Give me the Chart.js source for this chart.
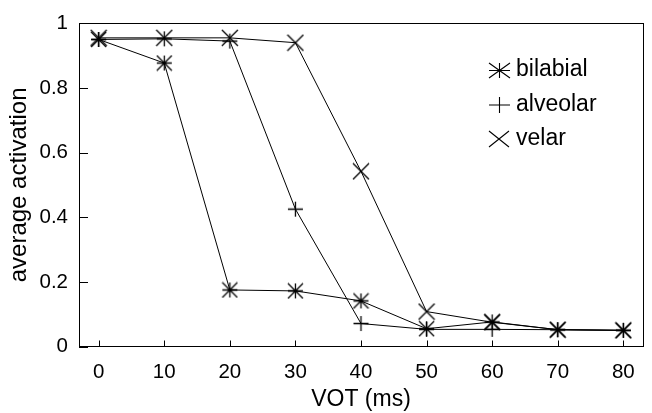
<!DOCTYPE html>
<html><head><meta charset="utf-8">
<script src="https://cdn.jsdelivr.net/npm/chart.js@4.4.1/dist/chart.umd.min.js"></script>
<style>html,body{margin:0;padding:0;background:#fff;} #wrap{width:652px;height:413px;position:relative;}</style>
</head><body><div id="wrap"><canvas id="c" width="652" height="413" style="width:652px;height:413px"></canvas></div>
<script>
// ---- data ----
const vot = [0, 10, 20, 30, 40, 50, 60, 70, 80];
const bilabial = [0.95, 0.877, 0.175, 0.172, 0.141, 0.055, 0.076, 0.052, 0.05];
const alveolar = [0.95, 0.952, 0.945, 0.425, 0.071, 0.053, 0.053, 0.052, 0.05];
const velar = [0.955, 0.955, 0.955, 0.94, 0.542, 0.108, 0.075, 0.052, 0.05];
const seriesNames = ['bilabial', 'alveolar', 'velar'];
const xTicks = [0, 10, 20, 30, 40, 50, 60, 70, 80];
const yTicks = [0, 0.2, 0.4, 0.6, 0.8, 1];
const yTickLabels = ['0', '0.2', '0.4', '0.6', '0.8', '1'];
const xTitle = 'VOT (ms)';
const yTitle = 'average activation';

// ---- marker images ----
function marker(kind, w, h, lw) {
  const c = document.createElement('canvas');
  c.width = w + 2; c.height = h + 2;
  const g = c.getContext('2d');
  g.strokeStyle = '#000'; g.lineWidth = lw;
  const cx = c.width / 2, cy = c.height / 2, hx = w / 2, hy = h / 2;
  g.beginPath();
  if (kind === 'plus' || kind === 'star') {
    g.moveTo(cx - hx, cy); g.lineTo(cx + hx, cy);
    g.moveTo(cx, cy - hy); g.lineTo(cx, cy + hy);
  }
  if (kind === 'x' || kind === 'star') {
    g.moveTo(cx - hx, cy - hy); g.lineTo(cx + hx, cy + hy);
    g.moveTo(cx - hx, cy + hy); g.lineTo(cx + hx, cy - hy);
  }
  g.stroke();
  return c;
}
const styles = [marker('star', 15, 15, 1.3), marker('plus', 15, 15, 1.3), marker('x', 16, 16, 1.3)];
const legendStyles = [marker('star', 21, 15, 1.1), marker('plus', 21, 16, 1.1), marker('x', 20, 16, 1.1)];
const seriesValues = [bilabial, alveolar, velar];

const FONT = "'Liberation Sans', Arial, sans-serif";

const frame = {
  id: 'frame',
  beforeDatasetsDraw(chart) {
    const { ctx, chartArea: a, scales } = chart;
    ctx.save();
    ctx.strokeStyle = '#000'; ctx.lineWidth = 1;
    ctx.beginPath();
    xTicks.forEach(v => {
      const px = Math.round(scales.x.getPixelForValue(v)) + 0.5;
      ctx.moveTo(px, a.bottom); ctx.lineTo(px, a.bottom - 6);
    });
    yTicks.forEach(v => {
      const py = Math.round(scales.y.getPixelForValue(v)) + 0.5;
      ctx.moveTo(a.left, py); ctx.lineTo(a.left + 9, py);
    });
    ctx.stroke();
    ctx.strokeRect(Math.round(a.left) + 0.5, Math.round(a.top) + 0.5,
      Math.round(a.right - a.left), Math.round(a.bottom - a.top));
    ctx.restore();
  },
  afterDatasetsDraw(chart) {
    const { ctx } = chart;
    ctx.save();
    ctx.fillStyle = '#000';
    ctx.font = '23px ' + FONT;
    ctx.textBaseline = 'alphabetic';
    ctx.textAlign = 'left';
    const rows = [76, 111, 145];
    chart.data.datasets.forEach((ds, i) => {
      const img = legendStyles[i];
      const cy = rows[i] - 6;
      ctx.drawImage(img, Math.round(499 - img.width / 2), Math.round(cy - img.height / 2));
      ctx.fillText(ds.label, 516, rows[i]);
    });
    ctx.restore();
  }
};

new Chart(document.getElementById('c'), {
  type: 'line',
  data: {
    datasets: seriesNames.map((name, i) => ({
      label: name,
      data: vot.map((x, j) => ({ x: x, y: seriesValues[i][j] })),
      borderColor: '#000',
      borderWidth: 1,
      pointStyle: styles[i],
      pointRadius: 8,
      pointHoverRadius: 8,
      fill: false,
      tension: 0
    }))
  },
  options: {
    responsive: false,
    animation: false,
    devicePixelRatio: 1,
    layout: { padding: { top: 15, right: 3, left: 0, bottom: 0 } },
    plugins: { legend: { display: false }, tooltip: { enabled: false } },
    scales: {
      x: {
        type: 'linear', min: -3, max: 83,
        afterBuildTicks(s) { s.ticks = xTicks.map(v => ({ value: v })); },
        afterFit(s) { s.height = 66.5; },
        grid: { display: false, drawTicks: false },
        border: { display: false },
        ticks: { color: '#000', font: { family: FONT, size: 20.5 }, padding: 14, maxRotation: 0, autoSkip: false },
        title: { display: true, text: xTitle, color: '#000', font: { family: FONT, size: 23 }, padding: { top: 1, bottom: 0 } }
      },
      y: {
        type: 'linear', min: 0, max: 1,
        afterBuildTicks(s) { s.ticks = yTicks.map(v => ({ value: v })); },
        afterFit(s) { s.width = 79; },
        grid: { display: false, drawTicks: false },
        border: { display: false },
        ticks: { color: '#000', font: { family: FONT, size: 20.5 }, padding: 11,
          callback: (v) => { const k = yTicks.indexOf(v); return k >= 0 ? yTickLabels[k] : ''; } },
        title: { display: true, text: yTitle, color: '#000', font: { family: FONT, size: 24 }, padding: { top: 5, bottom: 0 } }
      }
    }
  },
  plugins: [frame]
});
</script></body></html>
